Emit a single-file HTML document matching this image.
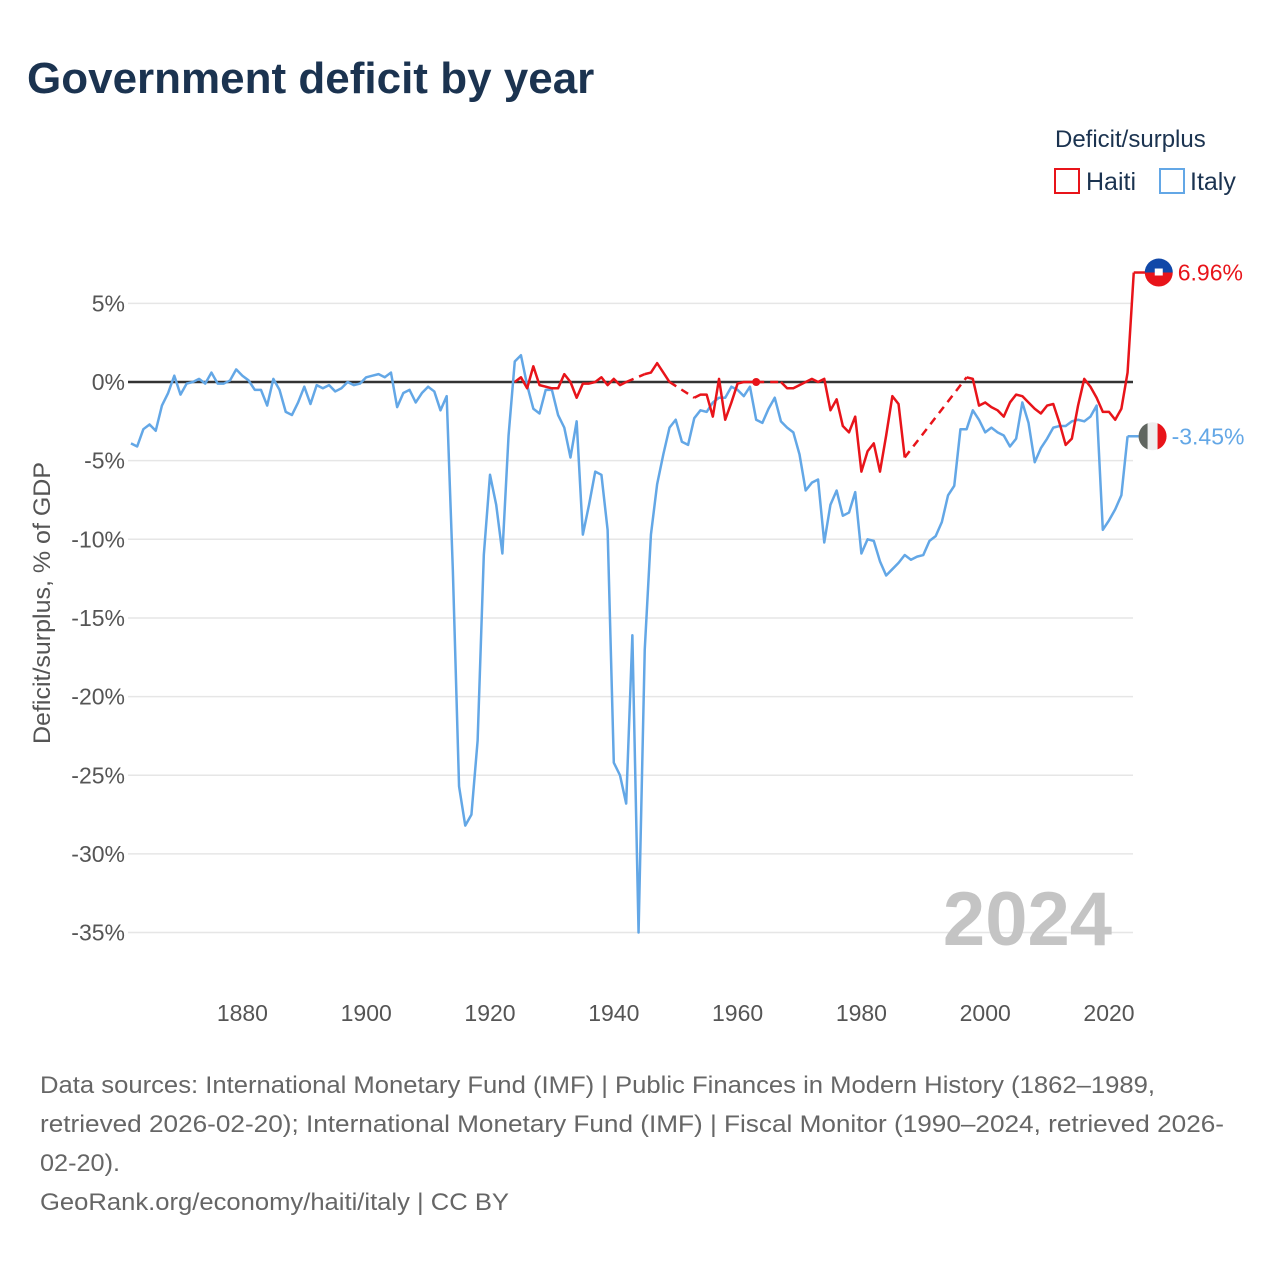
<!DOCTYPE html>
<html><head><meta charset="utf-8"><style>
html,body{margin:0;padding:0;background:#fff;}
body{width:1280px;height:1280px;overflow:hidden;font-family:"Liberation Sans",sans-serif;}
</style></head><body>
<svg id="chart" width="1280" height="1280" xmlns="http://www.w3.org/2000/svg" font-family="Liberation Sans, sans-serif">
<text x="27" y="93" font-size="44" font-weight="bold" fill="#1b3350">Government deficit by year</text>
<text x="1055" y="147" font-size="24" fill="#1b3350">Deficit/surplus</text>
<g><rect x="1055" y="169" width="24" height="24" fill="none" stroke="#e8141a" stroke-width="2"/><text x="1086" y="190" font-size="25" fill="#1b3350">Haiti</text></g>
<g><rect x="1160" y="169" width="24" height="24" fill="none" stroke="#63a7e6" stroke-width="2"/><text x="1190" y="190" font-size="25" fill="#1b3350">Italy</text></g>
<text transform="translate(50,603) rotate(-90)" text-anchor="middle" font-size="24" fill="#555" textLength="282" lengthAdjust="spacingAndGlyphs">Deficit/surplus, % of GDP</text>
<g id="grid"></g><g id="yticks"></g><g id="xticks"></g>
<text x="1112" y="945" text-anchor="end" font-size="76" font-weight="bold" fill="#c4c4c4">2024</text>
<g id="series"></g>
<g id="hlab"></g>
<g id="ilab"></g>
<g font-size="24" fill="#666" lengthAdjust="spacingAndGlyphs">
<text x="40" y="1093" textLength="1115" lengthAdjust="spacingAndGlyphs">Data sources: International Monetary Fund (IMF) | Public Finances in Modern History (1862–1989,</text>
<text x="40" y="1132" textLength="1184" lengthAdjust="spacingAndGlyphs">retrieved 2026-02-20); International Monetary Fund (IMF) | Fiscal Monitor (1990–2024, retrieved 2026-</text>
<text x="40" y="1171" textLength="80" lengthAdjust="spacingAndGlyphs">02-20).</text>
<text x="40" y="1210" textLength="469" lengthAdjust="spacingAndGlyphs">GeoRank.org/economy/haiti/italy | CC BY</text>
</g>
</svg>
<script>
const yTicks=[5,0,-5,-10,-15,-20,-25,-30,-35];
const xTicks=[1880,1900,1920,1940,1960,1980,2000,2020];
const italyStart=1862;
const italyValues=[-3.9,-4.1,-3.0,-2.7,-3.1,-1.5,-0.7,0.4,-0.8,-0.1,0.0,0.2,-0.1,0.6,-0.1,-0.1,0.1,0.8,0.4,0.1,-0.5,-0.5,-1.5,0.2,-0.5,-1.9,-2.1,-1.3,-0.3,-1.4,-0.2,-0.4,-0.2,-0.6,-0.4,0.0,-0.2,-0.1,0.3,0.4,0.5,0.3,0.6,-1.6,-0.7,-0.5,-1.3,-0.7,-0.3,-0.6,-1.8,-0.9,
-12,-25.7,-28.2,-27.5,-22.8,-11,-5.9,-7.8,-10.9,-3.4,1.3,1.7,-0.2,-1.7,-2.0,-0.5,-0.5,-2.1,-2.9,-4.8,-2.5,-9.7,-7.8,-5.7,-5.9,-9.4,-24.2,-25,-26.8,-16.1,-35,-17,-9.7,-6.5,-4.6,-2.9,-2.4,-3.8,-4.0,-2.3,-1.8,-1.9,-1.3,-1.0,-1.0,-0.3,-0.5,-0.9,-0.3,-2.4,-2.6,-1.7,-1.0,-2.5,-2.9,-3.2,-4.6,-6.9,-6.4,-6.2,-10.2,-7.8,-6.9,-8.5,-8.3,-7.0,-10.9,-10.0,-10.1,-11.4,-12.3,-11.9,-11.5,-11.0,-11.3,-11.1,-11.0,-10.1,-9.8,-8.9,-7.2,-6.6,-3.0,-3.0,-1.8,-2.4,-3.2,-2.9,-3.2,-3.4,-4.1,-3.6,-1.3,-2.6,-5.1,-4.2,-3.6,-2.9,-2.8,-2.8,-2.5,-2.4,-2.5,-2.2,-1.5,-9.4,-8.8,-8.1,-7.2,-3.45];
const haitiStart=1924;
const haitiValues=[0.0,0.3,-0.4,1.0,-0.2,-0.3,-0.4,-0.4,0.5,0.0,-1.0,-0.1,-0.1,0.0,0.3,-0.2,0.2,-0.2,0.0,null,null,0.5,0.6,1.2,0.6,0.0,null,null,null,-1.0,-0.8,-0.8,-2.2,0.2,-2.4,-1.3,-0.1,0.0,0.0,0.0,null,null,null,0.0,-0.4,-0.4,-0.2,0.0,0.2,0.0,0.2,-1.8,-1.1,-2.8,-3.2,-2.2,-5.7,-4.4,-3.9,-5.7,-3.4,-0.9,-1.4,-4.8,null,null,null,null,null,null,null,null,null,0.3,0.2,-1.5,-1.3,-1.6,-1.8,-2.2,-1.3,-0.8,-0.9,-1.3,-1.7,-2.0,-1.5,-1.4,-2.6,-4.0,-3.6,-1.5,0.2,-0.3,-1.0,-1.9,-1.9,-2.4,-1.7,0.6,6.96];
const NS="http://www.w3.org/2000/svg";
const X0=128,X1=1133;
function xs(y){return 1109-(2020-y)*6.19;}
function ys(v){return 382-v*15.73;}
function mk(tag,attrs,parent){const e=document.createElementNS(NS,tag);for(const k in attrs)e.setAttribute(k,attrs[k]);parent.appendChild(e);return e;}
const grid=document.getElementById('grid'),yt=document.getElementById('yticks'),xt=document.getElementById('xticks'),ser=document.getElementById('series');
yTicks.forEach(t=>{
  if(t!==0){const l=mk('line',{x1:X0,x2:X1,y1:ys(t),y2:ys(t),stroke:'#e6e6e6','stroke-width':1.5},grid);
  
  }
  const tx=mk('text',{x:125,y:ys(t)+8,'text-anchor':'end','font-size':23,fill:'#555'},yt);
  tx.textContent=t+'%';
  
  
});
xTicks.forEach(t=>{
  const tx=mk('text',{x:xs(t),y:1021,'text-anchor':'middle','font-size':23,fill:'#555'},xt);
  tx.textContent=t;
  
  
});
const zl=mk('line',{x1:X0,x2:X1,y1:ys(0),y2:ys(0),stroke:'#333','stroke-width':2.5},grid);


function drawSeries(start,vals,color,name){
  let solid='',dashed='',prev=null,pen=false;
  vals.forEach((v,i)=>{
    if(v===null){pen=false;return;}
    const px=xs(start+i),py=ys(v);
    if(prev&&!pen){dashed+='M'+prev[0]+','+prev[1]+'L'+px+','+py;}
    solid+=(pen?'L':'M')+px+','+py;
    prev=[px,py];pen=true;
  });
  const d=mk('path',{d:dashed,fill:'none',stroke:color,'stroke-width':2.5,'stroke-dasharray':'8 6'},ser);
  
  
  const s=mk('path',{d:solid,fill:'none',stroke:color,'stroke-width':2.5,'stroke-linejoin':'round'},ser);
  
  
}
drawSeries(italyStart,italyValues,'#63a7e6','italy');
drawSeries(haitiStart,haitiValues,'#e8141a','haiti');
const dot=mk('circle',{cx:xs(1963),cy:ys(0),r:4,fill:'#e8141a'},ser);


function endLabel(g,start,vals,color,txt,flag){
  const v=vals[vals.length-1],px=xs(start+vals.length-1),py=ys(v);
  mk('line',{x1:px,x2:px+12,y1:py,y2:py,stroke:color,'stroke-width':2.5},g);
  const cx=px+25,r=14;
  if(flag==='ht'){
    mk('path',{d:`M${cx-r},${py}A${r},${r} 0 0 1 ${cx+r},${py}Z`,fill:'#1148a8'},g);
    mk('path',{d:`M${cx-r},${py}A${r},${r} 0 0 0 ${cx+r},${py}Z`,fill:'#e8141a'},g);
    mk('rect',{x:cx-4,y:py-4,width:8,height:7,fill:'#fff'},g);
  }else{
    const h=Math.sqrt(r*r-25);
    mk('circle',{cx:cx,cy:py,r:r,fill:'#eeeeee'},g);
    mk('path',{d:`M${cx-5},${py-h}A${r},${r} 0 0 0 ${cx-5},${py+h}Z`,fill:'#606660'},g);
    mk('path',{d:`M${cx+5},${py-h}A${r},${r} 0 0 1 ${cx+5},${py+h}Z`,fill:'#e8141a'},g);
  }
  const t=mk('text',{x:cx+19,y:py+8,'font-size':23,fill:color},g);
  t.textContent=txt;
}
endLabel(document.getElementById('hlab'),haitiStart,haitiValues,'#e8141a','6.96%','ht');
endLabel(document.getElementById('ilab'),italyStart,italyValues,'#63a7e6','-3.45%','it');
</script>
</body></html>
